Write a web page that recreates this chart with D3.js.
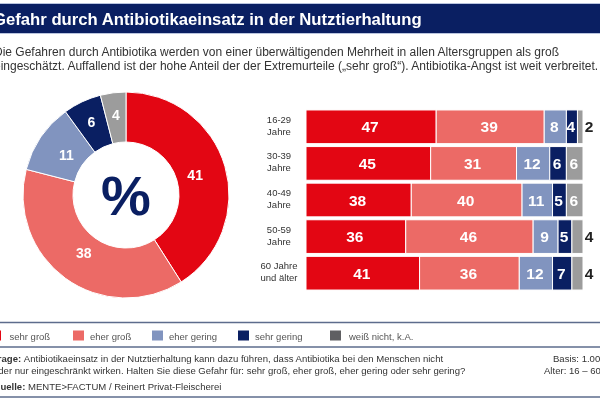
<!DOCTYPE html>
<html lang="de">
<head>
  <meta charset="UTF-8">
  <title>Gefahr durch Antibiotikaeinsatz in der Nutztierhaltung</title>
  <script src="https://d3js.org/d3.v7.min.js"></script>
  <style>
    html, body { margin: 0; padding: 0; background: #fff; overflow: hidden; }
    svg { display: block; font-family: "Liberation Sans", Arial, sans-serif; filter: blur(0.35px); }
  </style>
</head>
<body>
  <svg id="chart" width="600" height="400"></svg>

  <script>
    // Data
    const answers = ["sehr groß", "eher groß", "eher gering", "sehr gering", "weiß nicht, k.A."];
    const totalValues = [41, 38, 11, 6, 4];
    const ageGroups = [["16-29", "Jahre"], ["30-39", "Jahre"], ["40-49", "Jahre"], ["50-59", "Jahre"], ["60 Jahre", "und älter"]];
    const sehrGross = [47, 45, 38, 36, 41];
    const eherGross = [39, 31, 40, 46, 36];
    const eherGering = [8, 12, 11, 9, 12];
    const sehrGering = [4, 6, 5, 5, 7];
    const weissNicht = [2, 6, 6, 4, 4];
    const colors = ["#e30613", "#ec6a66", "#8194bf", "#0a1f62", "#9c9c9c"];
    const legendColors = ["#e30613", "#ec6a66", "#8194bf", "#0a1f62", "#5f5f62"];

    const svg = d3.select("#chart");
    const navy = "#0a1f62";
    const rule = "#5d6c8c";

    // Title band
    svg.append("rect").attr("x", 0).attr("y", 3).attr("width", 600).attr("height", 31).attr("fill", "#b9c4de");
    svg.append("rect").attr("x", 0).attr("y", 4).attr("width", 600).attr("height", 29).attr("fill", navy);
    svg.append("text").attr("x", -7).attr("y", 25)
       .attr("font-size", 16.7).attr("font-weight", "bold").attr("fill", "#fff")
       .text("Gefahr durch Antibiotikaeinsatz in der Nutztierhaltung");

    // Intro text
    const intro = [
      "Die Gefahren durch Antibiotika werden von einer überwältigenden Mehrheit in allen Altersgruppen als groß",
      "eingeschätzt. Auffallend ist der hohe Anteil der der Extremurteile („sehr groß“). Antibiotika-Angst ist weit verbreitet."
    ];
    svg.selectAll(".intro").data(intro).enter().append("text")
       .attr("class", "intro")
       .attr("x", -6).attr("y", (d, i) => 56 + i * 13.8)
       .attr("font-size", 12).attr("fill", "#333")
       .text(d => d);

    // Donut
    const donut = svg.append("g").attr("transform", "translate(126,195)");
    const pie = d3.pie().sort(null).value(d => d);
    const arc = d3.arc().innerRadius(53).outerRadius(103);
    const arcs = pie(totalValues);

    donut.selectAll("path").data(arcs).enter().append("path")
         .attr("d", arc)
         .attr("fill", (d, i) => colors[i])
         .attr("stroke", "#fff").attr("stroke-width", 1);

    donut.selectAll(".slice-label").data(arcs).enter().append("text")
         .attr("class", "slice-label")
         .attr("transform", d => {
           // the two thin slices carry their numbers further out
           const r = d.value < 10 ? 81 : 72;
           return `translate(${d3.arc().innerRadius(r).outerRadius(r).centroid(d)})`;
         })
         .attr("text-anchor", "middle").attr("dy", "0.36em")
         .attr("font-size", 14).attr("font-weight", "bold").attr("fill", "#fff")
         .text(d => d.value);

    donut.append("text")
         .attr("text-anchor", "middle").attr("y", 20)
         .attr("font-size", 56).attr("font-weight", "bold").attr("fill", navy)
         .text("%");

    // Stacked bars
    const x = d3.scaleLinear().domain([0, 100]).range([306, 583]);
    const y = d3.scaleBand().domain(d3.range(ageGroups.length)).range([108.5, 291.5]).paddingInner(0.08).paddingOuter(0.04);

    const rows = ageGroups.map((g, i) => ({
      i,
      0: sehrGross[i], 1: eherGross[i], 2: eherGering[i], 3: sehrGering[i], 4: weissNicht[i]
    }));
    const stack = d3.stack().keys([0, 1, 2, 3, 4]);
    const layers = svg.selectAll(".layer").data(stack(rows)).enter().append("g").attr("class", "layer");

    layers.selectAll("rect").data(d => d).enter().append("rect")
          .attr("x", d => x(d[0]))
          .attr("y", d => y(d.data.i))
          .attr("width", d => x(d[1]) - x(d[0]))
          .attr("height", y.bandwidth())
          .attr("fill", function() { return colors[d3.select(this.parentNode).datum().key]; })
          .attr("stroke", "#fff").attr("stroke-width", 1);

    layers.selectAll("text").data(d => d.map(v => ({ v, key: d.key }))).enter().append("text")
          // values of 4 or less in the last series sit outside the bar
          .attr("x", d => d.key === 4 && d.v[1] - d.v[0] < 5 ? 589 : (x(d.v[0]) + x(d.v[1])) / 2 - 1)
          .attr("y", d => y(d.v.data.i) + y.bandwidth() / 2)
          .attr("dy", "0.36em").attr("text-anchor", "middle")
          .attr("font-size", 15.5).attr("font-weight", "bold")
          .attr("fill", d => d.key === 4 && d.v[1] - d.v[0] < 5 ? "#222" : "#fff")
          .text(d => d.v[1] - d.v[0]);

    // Age group labels
    const ageLabels = svg.selectAll(".age").data(ageGroups).enter().append("text")
       .attr("class", "age")
       .attr("text-anchor", "middle").attr("font-size", 9.5).attr("fill", "#333");
    ageLabels.selectAll("tspan").data((d, i) => d.map(t => ({ t, i }))).enter().append("tspan")
       .attr("x", 279)
       .attr("y", (d, j) => y(d.i) + y.bandwidth() / 2 - 4 + j * 12)
       .text(d => d.t);

    // Rules
    svg.selectAll(".rule").data([322.5, 347, 397]).enter().append("line")
       .attr("x1", 0).attr("x2", 600).attr("y1", d => d).attr("y2", d => d)
       .attr("stroke", rule).attr("stroke-width", 1.3);

    // Legend
    const legendSwatchX = [-10, 73, 152, 238, 330];
    const legendTextX = [9.5, 90, 169, 255, 349];
    const legend = svg.selectAll(".legend").data(answers).enter().append("g").attr("class", "legend");
    legend.append("rect")
          .attr("x", (d, i) => legendSwatchX[i]).attr("y", 330.5)
          .attr("width", 11).attr("height", 10)
          .attr("fill", (d, i) => legendColors[i]);
    legend.append("text")
          .attr("x", (d, i) => legendTextX[i]).attr("y", 339.5)
          .attr("font-size", 9.5).attr("fill", "#555")
          .text(d => d);

    // Footer
    const footer = svg.append("g").attr("font-size", 9.55).attr("fill", "#333");
    const frage = footer.append("text").attr("x", -8).attr("y", 362);
    frage.append("tspan").attr("font-weight", "bold").text("Frage: ");
    frage.append("tspan").text("Antibiotikaeinsatz in der Nutztierhaltung kann dazu führen, dass Antibiotika bei den Menschen nicht");
    footer.append("text").attr("x", -7).attr("y", 374)
          .text("oder nur eingeschränkt wirken. Halten Sie diese Gefahr für: sehr groß, eher groß, eher gering oder sehr gering?");
    const quelle = footer.append("text").attr("x", -7).attr("y", 390);
    quelle.append("tspan").attr("font-weight", "bold").text("Quelle: ");
    quelle.append("tspan").text("MENTE>FACTUM / Reinert Privat-Fleischerei");
    footer.append("text").attr("x", 553).attr("y", 362).text("Basis: 1.000");
    footer.append("text").attr("x", 544).attr("y", 374).text("Alter: 16 – 60 Jahre");
  </script>
</body>
</html>
